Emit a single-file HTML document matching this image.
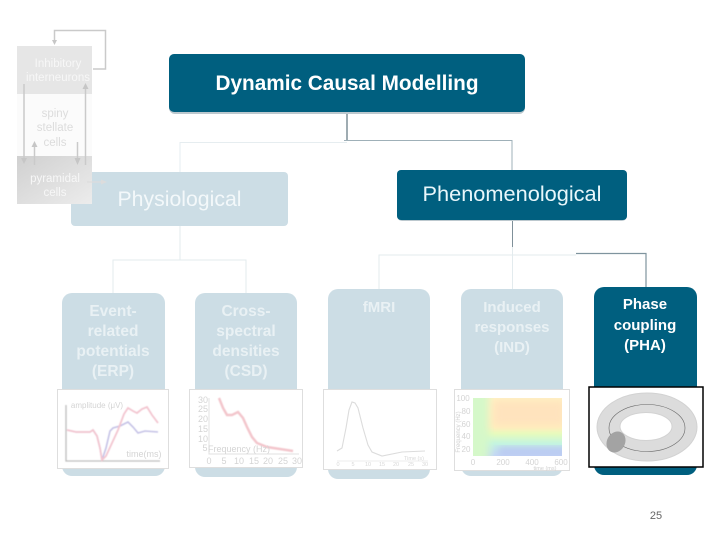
<!DOCTYPE html>
<html><head><meta charset="utf-8"><style>
html,body{margin:0;padding:0;background:#fff}
svg{display:block}
text{font-family:"Liberation Sans",sans-serif;text-anchor:middle}
.w{fill:#fff;font-weight:bold;font-size:15px}
.f{fill:#e9f1f4;font-weight:bold;font-size:15.500px}
.g{fill:#e9f1f4;font-weight:bold;font-size:15px}
.t{fill:#d4d4d4;font-size:9px}
</style></head><body>
<svg width="720" height="540" viewBox="0 0 720 540" xmlns="http://www.w3.org/2000/svg">
<defs>
<filter id="b"><feGaussianBlur stdDeviation="0.6"/></filter>
<filter id="s"><feGaussianBlur stdDeviation="0.3"/></filter>
<filter id="b2" x="-20%" y="-20%" width="140%" height="140%"><feGaussianBlur stdDeviation="4"/></filter>
<linearGradient id="py" x1="0" y1="0" x2="1" y2="1"><stop offset="0" stop-color="#d0d0d0"/><stop offset="1" stop-color="#ececec"/></linearGradient>
<linearGradient id="hm" x1="0" y1="0" x2="0" y2="1"><stop offset="0" stop-color="#fff3c4"/><stop offset=".5" stop-color="#fff0bd"/><stop offset=".62" stop-color="#e6fbbd"/><stop offset=".78" stop-color="#c4f5df"/><stop offset="1" stop-color="#c6d8f5"/></linearGradient>
<clipPath id="hc"><rect x="473" y="398" width="89" height="58"/></clipPath>
</defs>

<!-- connectors -->
<g fill="none" stroke-width="1">
<path d="M180 172V142.500H347" stroke="#e6edf0"/>
<path d="M347 113V141" stroke="#7f9099" stroke-width="1.500"/>
<path d="M344 140.500H512V170" stroke="#9fb0b8"/>
<path d="M180 226V260M113 293V260H246V293" stroke="#e3ebee"/>
<path d="M512.500 220V247" stroke="#7f9099"/>
<path d="M379 289V255H512.500V289M512.500 247V255H576" stroke="#e3ebee"/>
<path d="M576 253.500H646V287" stroke="#7f949e" stroke-width="1.200"/>
</g>

<!-- top boxes -->
<rect x="169" y="54" width="356" height="60" rx="6" fill="#bcc8ce"/>
<rect x="169" y="54" width="356" height="58" rx="5" fill="#005f7f"/>
<text x="347" y="90" font-size="21" font-weight="bold" fill="#fff" textLength="263" lengthAdjust="spacingAndGlyphs">Dynamic Causal Modelling</text>
<rect x="71" y="172" width="217" height="54" rx="4" fill="#ccdde5"/>
<text x="179.500" y="206" font-size="21" fill="#f3f8fa" textLength="124" lengthAdjust="spacingAndGlyphs">Physiological</text>
<rect x="397" y="170" width="230" height="51" rx="5" fill="#bcc8ce"/>
<rect x="397" y="170" width="230" height="50" rx="4" fill="#005f7f"/>
<text x="512" y="201" font-size="21" fill="#e8f7fb" textLength="179" lengthAdjust="spacingAndGlyphs">Phenomenological</text>

<!-- lower boxes -->
<rect x="62" y="293" width="103" height="183" rx="10" fill="#ccdde5"/>
<rect x="195" y="293" width="102" height="184" rx="10" fill="#ccdde5"/>
<rect x="328" y="289" width="102" height="190" rx="10" fill="#ccdde5"/>
<rect x="461" y="289" width="102" height="187" rx="10" fill="#ccdde5"/>
<rect x="594" y="287" width="103" height="188" rx="10" fill="#005f7f"/>

<g>
<text class="f" x="113" y="316">Event-</text><text class="f" x="113" y="336">related</text><text class="f" x="113" y="356">potentials</text><text class="f" x="113" y="376">(ERP)</text>
<text class="f" x="246" y="316">Cross-</text><text class="f" x="246" y="336">spectral</text><text class="f" x="246" y="356">densities</text><text class="f" x="246" y="376">(CSD)</text>
<text class="g" x="379" y="312">fMRI</text>
<text class="g" x="512" y="312">Induced</text><text class="g" x="512" y="332">responses</text><text class="g" x="512" y="352">(IND)</text>
<text class="w" x="645" y="309">Phase</text><text class="w" x="645" y="330">coupling</text><text class="w" x="645" y="350">(PHA)</text>
</g>

<!-- chart cards -->
<g fill="#fff" stroke="#dedede">
<rect x="57.500" y="389.500" width="111" height="79"/>
<rect x="189.500" y="389.500" width="113" height="78"/>
<rect x="323.500" y="389.500" width="113" height="80"/>
<rect x="454.500" y="389.500" width="115" height="81"/>
</g>
<rect x="589" y="387" width="114" height="80" fill="#fff" stroke="#000" stroke-width="1.500"/>

<!-- ERP chart -->
<g fill="none" filter="url(#b)">
<path d="M66 405V461H160" stroke="#bdbdbd" stroke-width="1.300"/>
<path d="M67 430L76 432 90 432 93 430 97 436 100 448 102 460 106 448 110 431 113 428 120 426 128 422 133 427 138 433 145 431 158 432" stroke="#c5c2e6" stroke-width="1.600"/>
<path d="M67 430L76 432 90 432 93 430 97 436 100 448 102 460 106 456 112 443 118 430 124 414 128 408 133 411 137 413 142 409 147 407 152 415 158 423" stroke="#f3c6d0" stroke-width="1.800"/>
</g>
<text class="t" x="97" y="408" style="font-size:8px">amplitude (μV)</text>
<text class="t" x="144" y="457">time(ms)</text>

<!-- CSD chart -->
<path d="M209 398V454H299" fill="none" stroke="#e0e0e0"/>
<path d="M219 398L223 408 227 415 232 415 238 412 243 418 247 427 252 437 257 443 267 447 280 449 293 451" fill="none" stroke="#f3c6cc" stroke-width="2.500" filter="url(#b)"/>
<g class="t">
<text x="203" y="403">30</text><text x="203" y="412">25</text><text x="203" y="422">20</text><text x="203" y="432">15</text><text x="203" y="442">10</text><text x="205" y="451">5</text>
</g>
<text class="t" x="239" y="452">Frequency (Hz)</text>
<g class="t"><text x="209" y="464">0</text><text x="224" y="464">5</text><text x="239" y="464">10</text><text x="254" y="464">15</text><text x="268" y="464">20</text><text x="283" y="464">25</text><text x="297" y="464">30</text></g>

<!-- fMRI chart -->
<path d="M337 451L342 448 346 428 349 410 352 402 355 403 358 408 363 428 368 445 372 452 382 456 402 452 425 451" fill="none" stroke="#dcdcdc" stroke-width="1.100" filter="url(#s)"/>
<path d="M337 461H428" stroke="#eeeeee"/>
<g fill="#d8d8d8" font-size="5.500"><text x="338" y="466">0</text><text x="353" y="466">5</text><text x="368" y="466">10</text><text x="382" y="466">15</text><text x="396" y="466">20</text><text x="411" y="466">25</text><text x="425" y="466">30</text><text x="414" y="460">Time (s)</text></g>

<!-- Induced heatmap -->
<g clip-path="url(#hc)">
<rect x="473" y="398" width="89" height="58" fill="url(#hm)"/>
<rect x="465" y="390" width="24" height="74" fill="#d5f8c9" filter="url(#b2)"/>
<rect x="493" y="400" width="72" height="26" fill="#ffe3bd" filter="url(#b2)"/>
<rect x="498" y="447" width="70" height="10" fill="#b9c8f3" filter="url(#b2)"/>
</g>
<g class="t" style="font-size:8px"><text x="463" y="401">100</text><text x="466" y="414">80</text><text x="466" y="427">60</text><text x="466" y="439">40</text><text x="466" y="452">20</text><text x="473" y="465">0</text><text x="503" y="465">200</text><text x="532" y="465">400</text><text x="561" y="465">600</text></g>
<text fill="#d0d0d0" font-size="5.500" x="545" y="470">time (ms)</text>
<text fill="#cfcfcf" font-size="6" transform="translate(460 432) rotate(-90)">Frequency (Hz)</text>

<!-- torus -->
<path fill-rule="evenodd" d="M597 427a50 34 0 1 0 100 0a50 34 0 1 0-100 0ZM620 426.500a26 14 0 1 0 52 0a26 14 0 1 0-52 0Z" fill="#dcdcdc" stroke="#d2d2d2"/>
<ellipse cx="647" cy="428" rx="38" ry="23.500" fill="none" stroke="#666" stroke-width=".6"/>
<ellipse cx="616" cy="442" rx="9" ry="11" transform="rotate(30 616 442)" fill="#a3a3a3"/>

<!-- microcircuit (faded) -->
<rect x="17" y="46" width="75" height="48" fill="#e6e6e6"/>
<rect x="17" y="94" width="75" height="62" fill="#fbfbfb"/>
<rect x="17" y="156" width="75" height="48" fill="url(#py)"/>
<g fill="#f7f7f7" font-size="11.500"><text x="58" y="67">Inhibitory</text><text x="58" y="81">interneurons</text><text x="55" y="182">pyramidal</text><text x="55" y="196">cells</text></g>
<g fill="#dcdcdc" font-size="11.500"><text x="55" y="117">spiny</text><text x="55" y="131">stellate</text><text x="55" y="146">cells</text></g>
<g fill="none" stroke="#cacaca" stroke-width="1.500">
<path d="M93 69H105.500V30.500H54.500V40"/>
<path d="M24 84V158"/><path d="M85.500 88V165"/><path d="M34.500 146V165"/><path d="M77.500 142V158"/>
</g>
<path d="M87 182H101" stroke="#dcdcdc" stroke-width="1.200"/>
<path d="M101 179.500l6 2.500-6 2.500Z" fill="#dcdcdc"/>
<g fill="#c6c6c6">
<path d="M52 40h5l-2.500 5Z"/>
<path d="M21 158h6l-3 6Z"/>
<path d="M82.500 89l3-6 3 6ZM31.500 147l3-6 3 6ZM74.500 158h6l-3 7Z"/>
</g>

<text x="656" y="519" font-size="11" fill="#666">25</text>
</svg>
</body></html>
